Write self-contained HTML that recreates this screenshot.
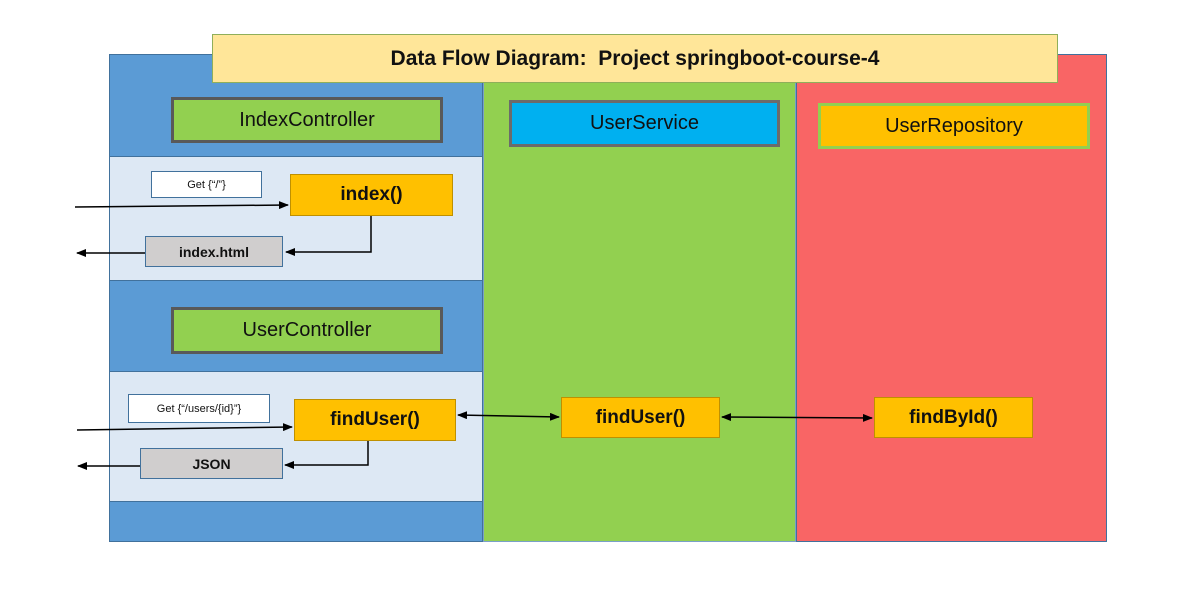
<!DOCTYPE html>
<html><head><style>
body{margin:0;width:1193px;height:598px;background:#fff;position:relative;overflow:hidden;font-family:"Liberation Sans",sans-serif}
.a{position:absolute;box-sizing:border-box;display:flex;align-items:center;justify-content:center;font-weight:bold;color:#111}
</style></head><body>
<div class="a" style="left:109px;top:54px;width:374px;height:488px;background:#5b9bd5;border:1px solid #41719c"></div>
<div class="a" style="left:110px;top:156px;width:372px;height:125px;background:#dde8f4;border-top:1px solid #41719c;border-bottom:1px solid #41719c"></div>
<div class="a" style="left:110px;top:371px;width:372px;height:131px;background:#dde8f4;border-top:1px solid #41719c;border-bottom:1px solid #41719c"></div>
<div class="a" style="left:483px;top:54px;width:313px;height:488px;background:#92d050;border:1px solid #7aa0c8"></div>
<div class="a" style="left:796px;top:54px;width:311px;height:488px;background:#f96565;border:1px solid #41719c"></div>
<div class="a" style="left:212px;top:34px;width:846px;height:49px;background:#ffe699;border:1px solid #8faf5a;font-size:21px">Data Flow Diagram:&nbsp; Project springboot-course-4</div>
<div class="a" style="left:171px;top:97px;width:272px;height:46px;background:#92d050;border:3px solid #595959;font-size:20px;font-weight:normal">IndexController</div>
<div class="a" style="left:171px;top:307px;width:272px;height:47px;background:#92d050;border:3px solid #595959;font-size:20px;font-weight:normal">UserController</div>
<div class="a" style="left:509px;top:100px;width:271px;height:47px;background:#00b0f0;border:3px solid #6b6b6b;font-size:20px;font-weight:normal">UserService</div>
<div class="a" style="left:818px;top:103px;width:272px;height:46px;background:#ffc000;border:3px solid #92d050;font-size:20px;font-weight:normal">UserRepository</div>
<div class="a" style="left:151px;top:171px;width:111px;height:27px;background:#fff;border:1px solid #41719c;font-size:11px;font-weight:normal">Get {“/”}</div>
<div class="a" style="left:290px;top:174px;width:163px;height:42px;background:#ffc000;border:1px solid #bf9000;font-size:19px">index()</div>
<div class="a" style="left:145px;top:236px;width:138px;height:31px;background:#d0cece;border:1px solid #41719c;font-size:14px">index.html</div>
<div class="a" style="left:128px;top:394px;width:142px;height:29px;background:#fff;border:1px solid #41719c;font-size:11px;font-weight:normal">Get {“/users/{id}”}</div>
<div class="a" style="left:294px;top:399px;width:162px;height:42px;background:#ffc000;border:1px solid #bf9000;font-size:19px">findUser()</div>
<div class="a" style="left:140px;top:448px;width:143px;height:31px;background:#d0cece;border:1px solid #41719c;font-size:14px">JSON</div>
<div class="a" style="left:561px;top:397px;width:159px;height:41px;background:#ffc000;border:1px solid #bf9000;font-size:19px">findUser()</div>
<div class="a" style="left:874px;top:397px;width:159px;height:41px;background:#ffc000;border:1px solid #bf9000;font-size:19px">findById()</div>
<svg width="1193" height="598" style="position:absolute;left:0;top:0">
<defs><marker id="m" markerWidth="10" markerHeight="8" refX="9" refY="4" orient="auto-start-reverse" markerUnits="userSpaceOnUse"><path d="M0,0L10,4L0,8z" fill="#000"/></marker></defs>
<g stroke="#000" stroke-width="1.5" fill="none">
<path d="M75,207L288,205" marker-end="url(#m)"/>
<path d="M371,216V252H286" marker-end="url(#m)"/>
<path d="M145,253H77" marker-end="url(#m)"/>
<path d="M77,430L292,427" marker-end="url(#m)"/>
<path d="M368,441V465H285" marker-end="url(#m)"/>
<path d="M140,466H78" marker-end="url(#m)"/>
<path d="M458,415L559,417" marker-start="url(#m)" marker-end="url(#m)"/>
<path d="M722,417L872,418" marker-start="url(#m)" marker-end="url(#m)"/>
</g></svg>
</body></html>
